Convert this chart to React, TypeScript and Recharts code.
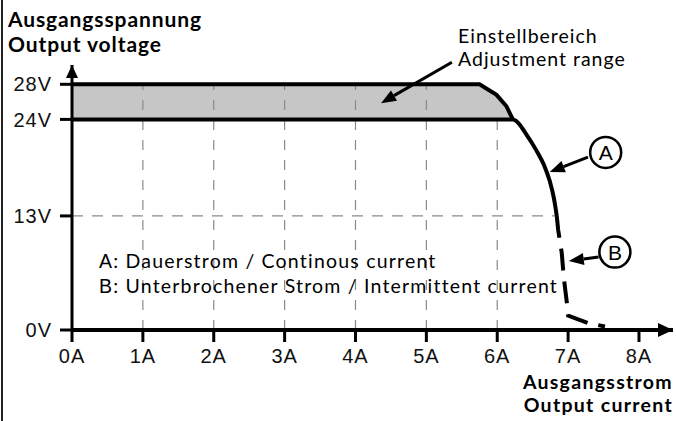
import React from "react";
import {
  Area,
  ComposedChart,
  Line,
  ReferenceDot,
  ReferenceLine,
  XAxis,
  YAxis,
} from "recharts";

const X_TICKS = [0, 1, 2, 3, 4, 5, 6, 7, 8];
const Y_TICKS = [0, 13, 24, 28];
const X_MAX = 8.48;
const Y_MAX = 30.2;

// upper edge of the 24..28 V adjustment range
const TOP = [
  { a: 0, v: 28 },
  { a: 5.75, v: 28 },
  { a: 5.99, v: 26.8 },
  { a: 6.13, v: 25.5 },
  { a: 6.22, v: 24 },
];

// A: Dauerstrom / continuous current
const CURVE_A = [
  { a: 0, v: 24 },
  { a: 6.22, v: 24 },
  { a: 6.27, v: 23.8 },
  { a: 6.41, v: 22.3 },
  { a: 6.55, v: 20.5 },
  { a: 6.66, v: 18.8 },
  { a: 6.74, v: 17.0 },
  { a: 6.8, v: 15.0 },
  { a: 6.84, v: 13 },
];

// B: unterbrochener Strom / intermittent current
const CURVE_B = [
  { a: 6.84, v: 13 },
  { a: 6.86, v: 11.4 },
  { a: 6.91, v: 8.8 },
  { a: 6.94, v: 5.9 },
  { a: 6.99, v: 2.6 },
  { a: 7.0, v: 1.65 },
  { a: 7.28, v: 0.8 },
  { a: 7.52, v: 0.4 },
];

// dashed helper lines
const GRID_X = [1, 2, 3, 4, 5, 6];
const GRID_TOP = [28, 28, 28, 28, 28, 24];
const KNEE = { a: 6.84, v: 13 };

// callout arrows (tail -> tip) and circled letters
const ARROWS = [
  { from: { a: 5.36, v: 30.52 }, to: { a: 4.36, v: 25.85 } },
  { from: { a: 7.28, v: 19.7 }, to: { a: 6.74, v: 18.0 } },
  { from: { a: 7.43, v: 8.31 }, to: { a: 7.01, v: 7.86 } },
];
const CALLOUTS = [
  { id: "A", a: 7.53, v: 20.24 },
  { id: "B", a: 7.66, v: 8.88 },
];

const band = TOP.map((p) => ({ a: p.a, r: [24, p.v] }));

const ARIAL = "Liberation Sans, Arial, sans-serif";
const TICK_FONT = {
  fontFamily: ARIAL,
  fontSize: 20,
  fill: "#111",
  letterSpacing: 1,
};
const CAL = "Lato, sans-serif";

function Arrow(p: any) {
  const { x1, y1, x2, y2 } = p;
  const ang = Math.atan2(y2 - y1, x2 - x1);
  const len = 15;
  const half = 6;
  const bx = x2 - len * Math.cos(ang);
  const by = y2 - len * Math.sin(ang);
  const nx = -Math.sin(ang) * half;
  const ny = Math.cos(ang) * half;
  return (
    <g>
      <line x1={x1} y1={y1} x2={bx} y2={by} stroke="#000" strokeWidth={3} />
      <polygon points={`${x2},${y2} ${bx + nx},${by + ny} ${bx - nx},${by - ny}`} fill="#000" />
    </g>
  );
}

const ArrowRight = ({ cx, cy }: any) => (
  <polygon points={`${cx},${cy} ${cx - 15},${cy - 7} ${cx - 15},${cy + 7}`} fill="#000" />
);
const ArrowUp = ({ cx, cy }: any) => (
  <polygon points={`${cx},${cy} ${cx - 6},${cy + 13} ${cx + 6},${cy + 13}`} fill="#000" />
);

const textBlock = (extra: React.CSSProperties): React.CSSProperties => ({
  position: "absolute",
  fontFamily: CAL,
  fontSize: 19.5,
  lineHeight: "23.5px",
  color: "#000",
  whiteSpace: "nowrap",
  ...extra,
});

export default function App() {
  return (
    <div
      style={{
        position: "absolute",
        left: 0,
        top: 0,
        width: 676,
        height: 421,
        background: "#fff",
        fontFamily: ARIAL,
      }}
    >
      <div style={{ position: "absolute", left: 1, top: 0, width: 2, height: 421, background: "#222" }} />
      <ComposedChart width={676} height={421} margin={{ top: 65, right: 3, bottom: 61, left: 12 }}>
        <XAxis
          type="number"
          dataKey="a"
          domain={[0, X_MAX]}
          ticks={X_TICKS}
          tickFormatter={(v) => `${v}A`}
          allowDataOverflow
          height={30}
          axisLine={{ stroke: "#000", strokeWidth: 4 }}
          tickLine={{ stroke: "#000", strokeWidth: 3 }}
          tickSize={12}
          tickMargin={7}
          tick={TICK_FONT}
        />
        <YAxis
          type="number"
          dataKey="v"
          domain={[0, Y_MAX]}
          ticks={Y_TICKS}
          tickFormatter={(v) => `${v}V`}
          allowDataOverflow
          width={60}
          axisLine={{ stroke: "#000", strokeWidth: 3 }}
          tickLine={{ stroke: "#000", strokeWidth: 3 }}
          tickSize={12}
          tickMargin={8}
          tick={TICK_FONT}
        />
        <Area
          data={band}
          dataKey="r"
          type="linear"
          stroke="none"
          fill="#c6c6c6"
          fillOpacity={1}
          isAnimationActive={false}
        />
        {GRID_X.map((x, i) => (
          <ReferenceLine
            key={x}
            segment={[{ x, y: 0 }, { x, y: GRID_TOP[i] }]}
            stroke="#8a8a8a"
            strokeWidth={1.2}
            strokeDasharray="10 10"
          />
        ))}
        <ReferenceLine
          segment={[{ x: 0, y: KNEE.v }, { x: KNEE.a, y: KNEE.v }]}
          stroke="#8a8a8a"
          strokeWidth={1.2}
          strokeDasharray="11 9"
        />
        <Line data={TOP} dataKey="v" type="linear" stroke="#000" strokeWidth={4} dot={false} isAnimationActive={false} />
        <Line data={CURVE_A} dataKey="v" type="monotone" stroke="#000" strokeWidth={4} dot={false} isAnimationActive={false} />
        <Line
          data={CURVE_B}
          dataKey="v"
          type="linear"
          stroke="#000"
          strokeWidth={4}
          strokeDasharray="22 11"
          dot={false}
          isAnimationActive={false}
        />
        {ARROWS.map((ar, i) => (
          <ReferenceLine
            key={`ar${i}`}
            segment={[{ x: ar.from.a, y: ar.from.v }, { x: ar.to.a, y: ar.to.v }]}
            ifOverflow="visible"
            shape={Arrow}
          />
        ))}
        {CALLOUTS.map((c) => (
          <ReferenceDot
            key={c.id}
            x={c.a}
            y={c.v}
            r={15.5}
            fill="#fff"
            stroke="#000"
            strokeWidth={2.5}
            ifOverflow="visible"
            label={{ value: c.id, position: "center", fill: "#000", fontSize: 21, fontFamily: ARIAL }}
          />
        ))}
        <ReferenceDot x={X_MAX} y={0} ifOverflow="visible" shape={ArrowRight} />
        <ReferenceDot x={0} y={Y_MAX} ifOverflow="visible" shape={ArrowUp} />
      </ComposedChart>

      <div
        style={textBlock({ left: 8, top: 6.2, fontWeight: 700, fontSize: 21, lineHeight: "25.3px", letterSpacing: 0.9 })}
      >
        <div>Ausgangsspannung</div>
        <div>Output voltage</div>
      </div>

      <div style={textBlock({ left: 458, top: 23.7, letterSpacing: 1 })}>
        <div>Einstellbereich</div>
        <div>Adjustment range</div>
      </div>

      <div style={textBlock({ left: 99, top: 249.2, letterSpacing: 1.2 })}>
        <div>
          <span style={{ fontFamily: ARIAL }}>A</span>: Dauerstrom / Continous current
        </div>
        <div>
          <span style={{ fontFamily: ARIAL }}>B</span>: Unterbrochener Strom / Intermittent current
        </div>
      </div>

      <div style={textBlock({ right: 3, top: 369.7, fontWeight: 700, textAlign: "right", letterSpacing: 1.3 })}>
        <div>Ausgangsstrom</div>
        <div>Output current</div>
      </div>
    </div>
  );
}
